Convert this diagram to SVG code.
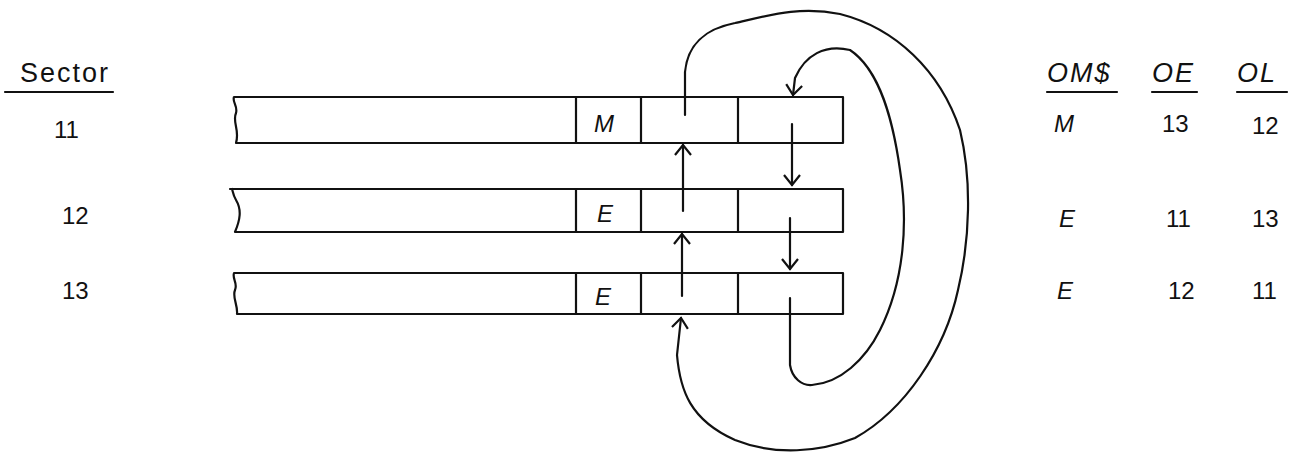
<svg xmlns="http://www.w3.org/2000/svg" width="1301" height="453" viewBox="0 0 1301 453">
<defs>
<style>
.ln{fill:none;stroke:#111;stroke-width:2.2;stroke-linecap:round;stroke-linejoin:round}
.tx{font-family:"Liberation Sans",Arial,sans-serif;font-size:24px;fill:#111}
.hd{font-size:27px;letter-spacing:2px}
.it{font-style:italic}
</style>
<marker id="ah" viewBox="0 0 20 20" refX="13" refY="10" markerWidth="20" markerHeight="20" markerUnits="userSpaceOnUse" orient="auto">
<path d="M3,2 L13,10 L3,18" fill="none" stroke="#111" stroke-width="2.2"/>
</marker>
</defs>
<rect width="1301" height="453" fill="#fff"/>
<g id="headers">
<text class="tx hd" x="20" y="82">Sector</text>
<line class="ln" x1="5" y1="92" x2="113" y2="92"/>
<text class="tx hd it" x="1047" y="82">OM$</text>
<line class="ln" x1="1047" y1="92" x2="1117" y2="92"/>
<text class="tx hd it" x="1152" y="82">OE</text>
<line class="ln" x1="1152" y1="92" x2="1197" y2="92"/>
<text class="tx hd it" x="1237" y="82">OL</text>
<line class="ln" x1="1237" y1="92" x2="1287" y2="92"/>
</g>
<g id="sector11">
<text class="tx" x="54" y="138">11</text>
<path class="ln" d="M234,97 L843,97 L843,143 L236,143 C240,130 232,122 236,113 C238,106 232,102 234,97 Z"/>
<line class="ln" x1="576" y1="97" x2="576" y2="143"/>
<line class="ln" x1="641" y1="97" x2="641" y2="143"/>
<line class="ln" x1="738" y1="97" x2="738" y2="143"/>
<text class="tx it" x="594" y="132">M</text>
<text class="tx it" x="1054" y="132">M</text>
<text class="tx" x="1162" y="132">13</text>
<text class="tx" x="1252" y="134">12</text>
</g>
<g id="sector12">
<text class="tx" x="62" y="224">12</text>
<path class="ln" d="M230,189 L843,189 L843,232 L235,232 C240,220 242,210 236,200 C233,195 233,192 232,189"/>
<line class="ln" x1="576" y1="189" x2="576" y2="232"/>
<line class="ln" x1="641" y1="189" x2="641" y2="232"/>
<line class="ln" x1="738" y1="189" x2="738" y2="232"/>
<text class="tx it" x="597" y="222">E</text>
<text class="tx it" x="1059" y="227">E</text>
<text class="tx" x="1166" y="227">11</text>
<text class="tx" x="1252" y="227">13</text>
</g>
<g id="sector13">
<text class="tx" x="62" y="299">13</text>
<path class="ln" d="M234,273 L843,273 L843,314 L237,314 C238,305 232,297 235,290 C238,283 232,279 234,273 Z"/>
<line class="ln" x1="576" y1="273" x2="576" y2="314"/>
<line class="ln" x1="641" y1="273" x2="641" y2="314"/>
<line class="ln" x1="738" y1="273" x2="738" y2="314"/>
<text class="tx it" x="595" y="305">E</text>
<text class="tx it" x="1057" y="299">E</text>
<text class="tx" x="1168" y="299">12</text>
<text class="tx" x="1252" y="299">11</text>
</g>
<g id="connectors">
<line class="ln" x1="683" y1="211" x2="683" y2="145" marker-end="url(#ah)"/>
<line class="ln" x1="682" y1="296" x2="682" y2="234" marker-end="url(#ah)"/>
<line class="ln" x1="792" y1="124" x2="792" y2="185" marker-end="url(#ah)"/>
<line class="ln" x1="790" y1="218" x2="790" y2="269" marker-end="url(#ah)"/>
<path class="ln" d="M685,115 L685,72 C688,40 710,28 735,23 C770,15 800,6 840,14 C895,28 940,70 960,130 C972,180 970,240 958,290 C945,350 905,410 855,438 C820,452 775,456 735,440 C690,420 680,390 677,355 L681,318" marker-end="url(#ah)"/>
<path class="ln" d="M790,298 L790,365 C792,378 802,386 812,385 C840,383 865,360 880,330 C905,280 908,220 900,170 C893,120 880,70 850,50 C825,44 805,55 795,78 L793,95" marker-end="url(#ah)"/>
</g>
</svg>
